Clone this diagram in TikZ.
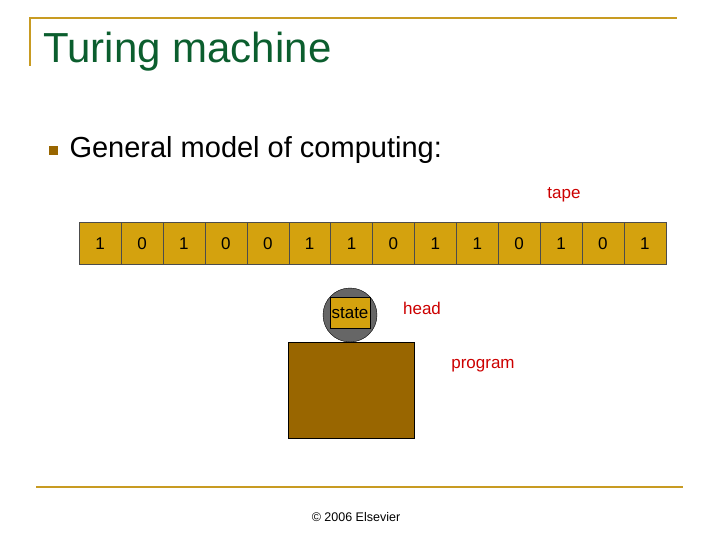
\documentclass[tikz,border=0pt]{standalone}
\usepackage{fontspec}
\setmainfont{Liberation Sans}
\begin{document}
\begin{tikzpicture}[x=1pt,y=-1pt,
  cell/.style={draw=black!70,fill=tapec,minimum width=41.9pt,minimum height=42pt,inner sep=0pt,font=\fontsize{17}{20}\selectfont,anchor=north west},
  lbl/.style={text=red!80!black,font=\fontsize{17}{20}\selectfont}]
\definecolor{tapec}{HTML}{D4A20E}
\definecolor{brownc}{HTML}{996600}
\definecolor{titleg}{HTML}{0B5E2E}
\definecolor{rulec}{HTML}{C89B22}
\useasboundingbox (0,0) rectangle (720,540);
\draw[rulec,line width=2.5pt] (30,66) -- (30,18) -- (677,18);
\draw[rulec,line width=2.5pt] (36,487) -- (683,487);
\node[anchor=west,text=titleg,font=\fontsize{42}{48}\selectfont] (title) at (40,52) {Turing machine};
\node[fill=brownc,minimum size=9pt,inner sep=0pt] (bul) at (53,151) {};
\node[anchor=west,font=\fontsize{29}{34}\selectfont] (sub) at (66,150) {General model of computing:};
\foreach \v [count=\i from 0] in {1,0,1,0,0,1,1,0,1,1,0,1,0,1}
  \node[cell] (c\i) at (79+41.9*\i,222) {\v};
\node[lbl] (tape) at (564,195) {tape};
\node[draw=black,fill=gray!80!black,circle,minimum size=54pt,inner sep=0pt] (head) at (350,315) {};
\node[draw=black,fill=tapec,minimum width=40pt,minimum height=31pt,inner sep=0pt,font=\fontsize{17}{20}\selectfont] (state) at (350,313) {state};
\node[lbl] (headl) at (422,308) {head};
\node[draw=black,fill=brownc,anchor=north west,minimum width=126pt,minimum height=96pt,inner sep=0pt] (prog) at (288,342) {};
\node[lbl] (progl) at (483,366) {program};
\node[font=\fontsize{12.5}{15}\selectfont] (copy) at (356,517) {© 2006 Elsevier};
\end{tikzpicture}
\end{document}
